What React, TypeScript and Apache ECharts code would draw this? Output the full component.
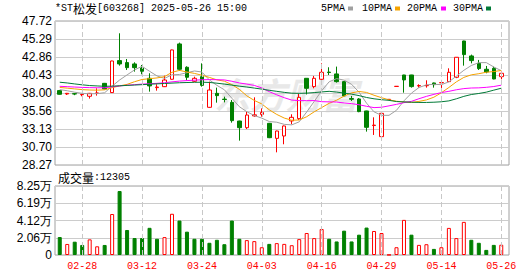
import React, { useEffect, useRef } from "react";
import * as echarts from "echarts";

const dates = ["02-25","02-26","02-27","02-28","03-03","03-04","03-05","03-06","03-07","03-10","03-11","03-12","03-13","03-14","03-17","03-18","03-19","03-20","03-21","03-24","03-25","03-26","03-27","03-28","03-31","04-01","04-02","04-03","04-07","04-08","04-09","04-10","04-11","04-14","04-15","04-16","04-17","04-18","04-21","04-22","04-23","04-24","04-25","04-29","04-30","05-06","05-07","05-08","05-09","05-12","05-13","05-14","05-15","05-16","05-19","05-20","05-21","05-22","05-23","05-26"];

const opens = [38.32,37.86,37.90,37.76,37.55,37.95,39.30,38.05,42.37,42.10,41.92,41.38,39.98,38.72,38.85,39.85,44.62,41.47,39.58,40.20,36.06,37.95,37.17,36.73,34.21,33.31,34.90,35.11,33.90,31.87,32.19,34.22,34.53,39.98,38.86,39.85,40.82,40.57,39.53,37.24,37.19,35.57,33.60,32.10,37.12,38.88,40.43,40.43,38.95,38.98,39.35,39.37,39.53,40.12,45.02,43.00,42.00,41.20,41.33,40.20];
const closes = [37.82,37.95,37.86,37.80,37.95,38.00,38.54,42.32,41.92,41.42,41.42,40.93,38.95,38.80,39.75,43.81,41.20,40.12,39.98,39.03,38.40,37.64,37.12,34.26,33.31,35.02,35.05,35.38,31.96,32.86,33.54,34.71,37.41,38.63,39.98,40.79,40.76,39.53,37.60,37.15,35.48,33.36,33.66,35.25,37.14,38.90,39.76,38.86,39.00,39.02,39.12,39.40,40.79,42.82,43.18,42.37,41.29,40.84,39.89,40.66];
const lows = [37.78,37.73,37.70,37.55,37.24,37.64,38.50,38.00,41.69,41.10,40.88,40.52,38.18,38.31,38.80,39.80,41.00,39.71,39.50,38.85,36.00,36.69,36.73,33.99,31.56,33.13,34.80,34.80,31.90,29.98,31.07,33.77,34.35,37.80,38.63,39.30,40.43,39.40,37.50,36.92,35.40,32.78,32.33,32.00,37.12,38.88,38.04,38.72,38.72,38.72,38.72,38.68,39.50,40.00,41.69,42.00,41.10,40.66,39.85,39.85];
const highs = [38.40,38.00,38.00,37.84,38.00,38.63,39.35,42.35,46.06,42.59,42.14,41.78,40.66,39.17,40.34,43.85,44.80,41.60,40.20,42.00,39.53,38.72,37.50,37.05,34.25,35.47,37.41,35.92,33.95,32.90,33.60,35.12,37.86,40.00,40.30,42.00,41.47,41.56,39.60,37.60,37.30,35.60,34.71,35.30,37.14,38.90,40.45,40.45,39.17,39.71,39.40,39.76,41.33,42.85,45.05,43.18,42.46,41.65,41.56,40.88];

const volumes = [21500,13200,15900,12000,18700,10400,12000,49000,76500,29900,20300,20300,32500,19400,21400,49300,41200,27900,19400,19400,14600,18200,12900,41200,19400,17800,16600,9300,13300,14200,13300,11700,19000,26300,20200,31100,19400,16200,29100,16200,24300,32800,28700,26300,200,9300,42000,24300,12100,12900,7300,9300,32400,20200,39600,18200,14600,6100,12100,12305];
const volumeUp = [0,1,0,0,1,1,0,1,0,0,0,0,0,0,1,1,0,0,0,0,0,0,0,0,0,1,1,1,0,1,1,1,1,1,1,1,0,0,0,0,0,0,1,1,1,1,1,0,1,1,0,1,1,1,1,0,0,0,0,1];

const ma5 = [38.45,38.30,38.10,37.95,37.88,37.91,38.03,38.92,39.75,40.44,41.12,41.60,40.93,40.30,39.97,40.45,40.50,40.74,40.97,40.83,39.75,39.03,38.43,37.29,36.15,35.47,34.95,34.60,34.14,34.05,33.76,33.69,34.10,35.43,36.85,38.30,39.51,39.94,39.73,39.17,38.10,36.62,35.45,34.98,34.98,35.66,36.94,37.98,38.73,39.10,39.17,39.12,39.50,40.27,41.06,41.71,42.09,42.10,41.51,41.01];
const ma10 = [38.75,38.65,38.55,38.45,38.40,38.38,38.42,38.72,38.95,39.16,39.52,39.82,39.93,40.03,40.21,40.79,41.05,40.83,40.64,40.40,40.10,39.77,39.59,39.13,38.49,37.61,36.99,36.52,35.72,35.10,34.61,34.32,34.35,34.79,35.45,36.03,36.60,37.02,37.58,38.01,38.20,38.07,37.69,37.36,37.07,36.88,36.78,36.72,36.86,37.06,37.43,38.03,38.74,39.50,40.10,40.45,40.60,40.80,40.89,41.04];
const ma20 = [38.90,38.85,38.80,38.75,38.72,38.70,38.70,38.82,38.95,39.05,39.12,39.20,39.25,39.30,39.38,39.50,39.60,39.67,39.73,39.78,39.81,39.79,39.76,39.58,39.35,39.20,39.02,38.68,38.18,37.75,37.36,37.04,36.97,36.96,36.97,36.82,36.80,36.77,36.65,36.56,36.41,36.20,36.02,36.07,36.26,36.46,36.69,36.87,37.22,37.54,37.81,38.05,38.22,38.43,38.59,38.67,38.69,38.76,38.87,39.05];
const ma30 = [39.45,39.35,39.22,39.10,39.00,38.95,38.90,38.92,38.97,39.02,39.07,39.12,39.18,39.23,39.28,39.33,39.38,39.41,39.44,39.45,39.42,39.32,39.20,39.06,38.92,38.80,38.66,38.52,38.36,38.22,38.08,37.97,37.95,37.98,38.05,38.14,38.22,38.12,37.98,37.84,37.64,37.39,37.21,37.09,37.00,36.84,36.79,36.75,36.72,36.72,36.75,36.81,36.93,37.21,37.54,37.79,37.93,38.11,38.38,38.64];

const maNames = ["5PMA", "10PMA", "20PMA", "30PMA"];
const maColors = ["#a0a0a0", "#f5a300", "#ff00ff", "#007a37"];

const PRICE_MIN = 28.27;
const PRICE_MAX = 47.72;
const PRICE_STEP = 2.43125;
const VOL_MAX = 82500;
const VOL_STEP = 20625;
const LABEL_EVERY = 8;
const LABEL_OFFSET = 3;

const TITLE_CODE = "*ST";
const TITLE_NAME = "松发";
const TITLE_REST = "[603268] 2025-05-26 15:00";

export default function App() {
  const ref = useRef<HTMLDivElement>(null);

  useEffect(() => {
    document.body.style.margin = "0";
    const chart = echarts.init(ref.current!, null, { renderer: "svg" });
    const red = "#ff0000";
    const green = "#008000";
    const mono = "'Liberation Mono', monospace";
    const cjk = "'Noto Sans CJK SC', sans-serif";

    const candleData = dates.map((_, i) => [opens[i], closes[i], lows[i], highs[i]]);
    const volData = volumes.map((v, i) => ({
      value: v,
      itemStyle: volumeUp[i]
        ? { color: "#ffffff", borderColor: red, borderWidth: 1 }
        : { color: green, borderColor: green, borderWidth: 1 },
    }));
    const markDates = dates.filter((_, i) => i % LABEL_EVERY === LABEL_OFFSET);
    const vLineSeries = (idx: number) => ({
      type: "line",
      xAxisIndex: idx,
      yAxisIndex: idx,
      data: dates.map(() => null),
      symbol: "none",
      silent: true,
      z: 1,
      markLine: {
        silent: true,
        symbol: ["none", "none"],
        label: { show: false },
        lineStyle: { color: "#c8c8c8", type: [5, 3], width: 1 },
        data: markDates.map((d) => ({ xAxis: d })),
      },
    });
    const maSeries = [ma5, ma10, ma20, ma30].map((arr, k) => ({
      type: "line",
      name: maNames[k],
      xAxisIndex: 0,
      yAxisIndex: 0,
      data: arr,
      symbol: "none",
      showSymbol: false,
      lineStyle: { width: 1, color: maColors[k] },
      z: 4,
    }));

    const legendGraphics: any[] = [];
    const legendX = [321, 362, 407, 453];
    const legendSq = [348, 395, 441, 486];
    maNames.forEach((n, k) => {
      legendGraphics.push({
        type: "text",
        style: { x: legendX[k], y: 8, text: n, fill: "#000", font: `10px ${mono}`, verticalAlign: "middle" },
      });
      legendGraphics.push({
        type: "rect",
        shape: { x: legendSq[k], y: 6.5, width: 5, height: 4 },
        style: { fill: maColors[k] },
      });
    });

    const frameAxisLabel = {
      color: "#000",
      fontSize: 12,
      fontFamily: "'Liberation Sans', Arial, sans-serif",
      margin: 3,
      showMinLabel: true,
      showMaxLabel: true,
    };

    chart.setOption({
      animation: false,
      grid: [
        { left: 56, right: 25, top: 21, height: 144 },
        { left: 56, right: 25, top: 186, height: 69 },
        { left: 55, right: 21, top: 21, height: 144, show: true, borderColor: "#a0a0a0", borderWidth: 1, backgroundColor: "transparent" },
        { left: 55, right: 21, top: 186, height: 69, show: true, borderColor: "#a0a0a0", borderWidth: 1, backgroundColor: "transparent" },
      ],
      xAxis: [
        { gridIndex: 0, type: "category", data: dates, boundaryGap: true, axisLine: { show: false }, axisTick: { show: false }, axisLabel: { show: false }, splitLine: { show: false } },
        {
          gridIndex: 1, type: "category", data: dates, boundaryGap: true,
          axisLine: { show: false }, axisTick: { show: false }, splitLine: { show: false },
          axisLabel: {
            interval: (i: number) => i % LABEL_EVERY === LABEL_OFFSET,
            color: red, fontSize: 10, fontFamily: mono, margin: 6,
          },
        },
        { gridIndex: 2, type: "value", min: 0, max: 1, show: false },
        { gridIndex: 3, type: "value", min: 0, max: 1, show: false },
      ],
      yAxis: [
        { gridIndex: 0, type: "value", min: PRICE_MIN, max: PRICE_MAX, show: false, splitLine: { show: false } },
        { gridIndex: 1, type: "value", min: 0, max: VOL_MAX, show: false, splitLine: { show: false } },
        {
          gridIndex: 2, type: "value", min: PRICE_MIN, max: PRICE_MAX, interval: PRICE_STEP,
          axisLine: { show: false }, axisTick: { show: false },
          splitLine: { lineStyle: { color: "#cccccc", width: 1 } },
          axisLabel: { ...frameAxisLabel, formatter: (v: number) => (v + 1e-9).toFixed(2) },
        },
        {
          gridIndex: 3, type: "value", min: 0, max: VOL_MAX, interval: VOL_STEP,
          axisLine: { show: false }, axisTick: { show: false },
          splitLine: { lineStyle: { color: "#cccccc", width: 1 } },
          axisLabel: {
            ...frameAxisLabel,
            formatter: (v: number) => (v === 0 ? "0" : (v / 10000 - 1e-9).toFixed(2) + "万"),
          },
        },
      ],
      graphic: [
        {
          type: "text",
          z: 0,
          style: {
            x: 214, y: 93, text: "东方财富", fill: "#e8e8e8",
            font: `italic bold 36px ${cjk}`, verticalAlign: "middle",
          },
        },
        {
          type: "text",
          style: {
            x: 55, y: 8,
            text: `{c|${TITLE_CODE}}{n|${TITLE_NAME}}{c|${TITLE_REST}}`,
            verticalAlign: "middle",
            rich: {
              c: { fontFamily: mono, fontSize: 10, fill: "#000", verticalAlign: "middle" },
              n: { fontFamily: cjk, fontSize: 12, fill: "#000", verticalAlign: "middle" },
            },
          },
        },
        {
          type: "text",
          style: {
            x: 58, y: 177,
            text: `{n|成交量}{c|:${volumes[volumes.length - 1]}}`,
            verticalAlign: "middle",
            rich: {
              c: { fontFamily: mono, fontSize: 10, fill: "#000", verticalAlign: "middle" },
              n: { fontFamily: cjk, fontSize: 12, fill: "#000", verticalAlign: "middle" },
            },
          },
        },
        ...legendGraphics,
      ],
      series: [
        vLineSeries(0),
        vLineSeries(1),
        {
          type: "candlestick",
          xAxisIndex: 0,
          yAxisIndex: 0,
          data: candleData,
          barWidth: 4,
          z: 3,
          itemStyle: { color: "#ffffff", color0: green, borderColor: red, borderColor0: green, borderWidth: 1 },
        },
        ...maSeries,
        {
          type: "bar",
          xAxisIndex: 1,
          yAxisIndex: 1,
          data: volData,
          barWidth: 4,
          z: 3,
        },
      ],
    });

    return () => chart.dispose();
  }, []);

  return <div ref={ref} style={{ position: "absolute", left: 0, top: 0, width: 530, height: 276 }} />;
}
